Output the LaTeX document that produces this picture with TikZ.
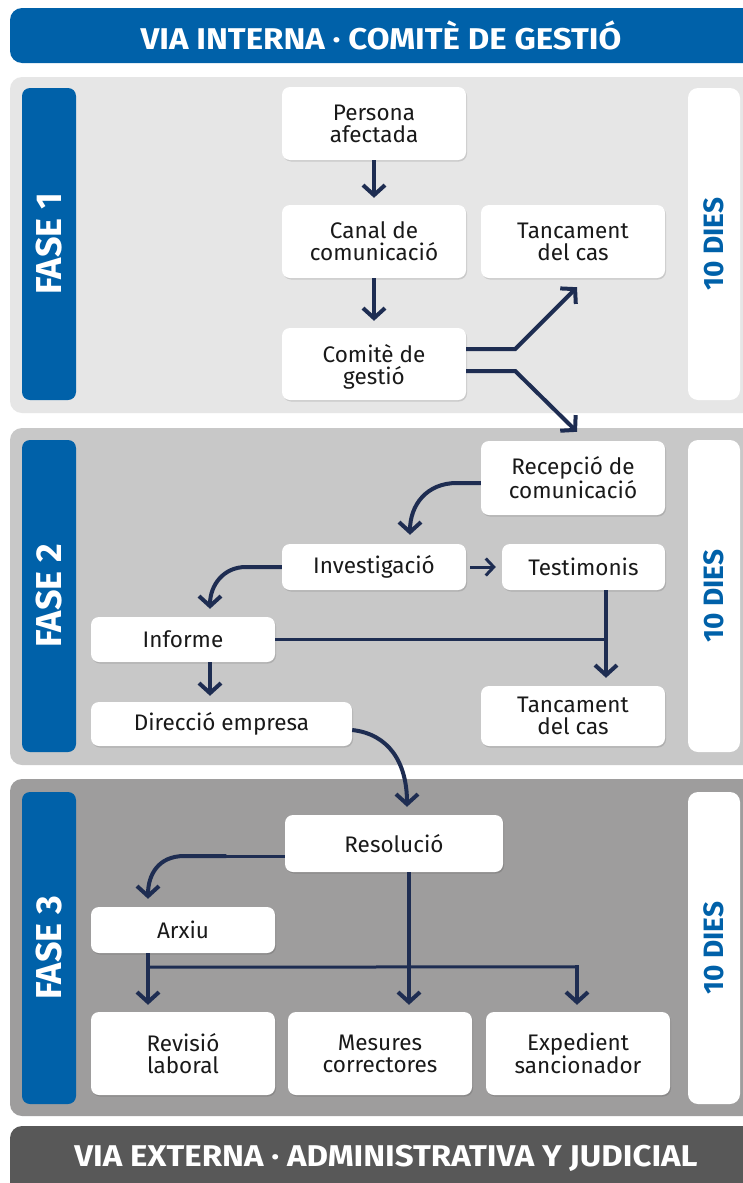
\documentclass[tikz,border=0pt]{standalone}
\usepackage{fontspec}
\setmainfont{Fira Sans}
\newfontfamily\barfont[FakeStretch=1.1]{Fira Sans}
\usetikzlibrary{arrows.meta,calc,shadows}
\definecolor{hblue}{HTML}{0061A9}
\definecolor{navy}{HTML}{1E2D52}
\definecolor{pone}{HTML}{E6E6E6}
\definecolor{ptwo}{HTML}{C8C8C8}
\definecolor{pthree}{HTML}{9E9D9D}
\definecolor{foot}{HTML}{585858}
\tikzset{
  box/.style={fill=white, rounded corners=8pt, inner sep=0pt, align=center,
    font=\fontsize{22.5pt}{22pt}\selectfont, text=black!90,
    drop shadow={shadow xshift=1pt, shadow yshift=-1.5pt, opacity=.12, fill=black}},
  panel/.style={rounded corners=12pt},
  side/.style={fill=hblue, rounded corners=8pt, minimum width=54pt, minimum height=312pt, inner sep=0pt},
  days/.style={fill=white, rounded corners=10pt, minimum width=52pt, minimum height=312pt, inner sep=0pt},
  fasetxt/.style={rotate=90, text=white, font=\fontsize{36pt}{36pt}\selectfont\bfseries},
  daystxt/.style={rotate=90, text=hblue, font=\fontsize{28pt}{28pt}\selectfont\bfseries},
  bartxt/.style={text=white, font=\barfont\fontsize{30pt}{30pt}\selectfont\bfseries},
  flow/.style={draw=navy, line width=4pt, -{Straight Barb[length=10pt,width=22pt]}},
  thinflow/.style={draw=navy, line width=3pt, -{Straight Barb[length=8pt,width=17pt]}},
  link/.style={draw=navy, line width=3pt},
}
\begin{document}
\begin{tikzpicture}[x=1pt,y=-1pt]
\useasboundingbox (0,0) rectangle (742,1183);
\fill[white] (0,0) rectangle (742,1183);
% header / footer bars
\fill[hblue, panel] (10,8) rectangle (780,63);
\node[bartxt] (head) at (381,35.5) {VIA INTERNA · COMITÈ DE GESTIÓ};
\fill[foot, panel] (10,1126) rectangle (780,1220);
\node[bartxt] (foot) at (386,1158) {VIA EXTERNA · ADMINISTRATIVA Y JUDICIAL};
% phase panels
\fill[pone, panel] (10,77) rectangle (780,413);
\fill[ptwo, panel] (10,428) rectangle (780,765);
\fill[pthree, panel] (10,779) rectangle (780,1116);
% side labels
\node[side] (s1) at (49,244) {};
\node[fasetxt] (f1) at (49,244) {FASE 1};
\node[side] (s2) at (49,596) {};
\node[fasetxt] (f2) at (49,596) {FASE 2};
\node[side] (s3) at (49,948) {};
\node[fasetxt] (f3) at (49,948) {FASE 3};
\node[days] (d1) at (714,244) {};
\node[daystxt] (t1) at (714,244) {10 DIES};
\node[days] (d2) at (714,596) {};
\node[daystxt] (t2) at (714,596) {10 DIES};
\node[days] (d3) at (714,948) {};
\node[daystxt] (t3) at (714,948) {10 DIES};
% phase 1 boxes
\node[box, minimum width=184pt, minimum height=73pt] (persona) at (374,123.5) {Persona\\afectada};
\node[box, minimum width=184pt, minimum height=73pt] (canal) at (374,241.5) {Canal de\\comunicació};
\node[box, minimum width=184pt, minimum height=73pt] (tanc1) at (573,241.5) {Tancament\\del cas};
\node[box, minimum width=184pt, minimum height=72pt] (comite) at (374,364) {\raisebox{-4pt}[\height][\depth]{\begin{tabular}{@{}c@{}}Comitè de\\[-3pt]gestió\end{tabular}}};
% phase 2 boxes
\node[box, minimum width=184pt, minimum height=74pt] (recep) at (573,478) {Recepció de\\comunicació};
\node[box, minimum width=184pt, minimum height=46pt] (invest) at (374,567) {Investigació};
\node[box, minimum width=163pt, minimum height=46pt] (testim) at (583.5,567) {Testimonis};
\node[box, minimum width=184pt, minimum height=45pt] (informe) at (183,639.5) {Informe};
\node[box, minimum width=261pt, minimum height=44pt] (direccio) at (221.5,724) {Direcció empresa};
\node[box, minimum width=184pt, minimum height=60pt] (tanc2) at (573,716) {Tancament\\del cas};
% phase 3 boxes
\node[box, minimum width=218pt, minimum height=57pt] (resol) at (394,843.5) {Resolució};
\node[box, minimum width=184pt, minimum height=46pt] (arxiu) at (183,930) {Arxiu};
\node[box, minimum width=184pt, minimum height=83pt] (revisio) at (183,1053.5) {Revisió\\laboral};
\node[box, minimum width=184pt, minimum height=83pt] (mesures) at (380,1053.5) {Mesures\\correctores};
\node[box, minimum width=184pt, minimum height=83pt] (exped) at (578,1053.5) {Expedient\\sancionador};
% phase 1 connectors
\draw[flow, shorten >=7pt] (persona) -- (canal);
\draw[flow, shorten >=7pt] (canal) -- (comite);
\draw[flow] ($(comite.east)+(0,-15)$) -- ++(49,0) -- ($(tanc1.south)+(4,9)$);
\draw[flow] ($(comite.east)+(0,7)$) -- ++(49,0) -- ($(recep.north)+(4,-9)$);
% phase 2 connectors
\draw[flow] ($(recep.west)+(0,5)$) -- ++(-24,0) .. controls +(-30,0) and +(0,-30) .. ($(invest.north)+(36,-9)$);
\draw[thinflow] ($(invest.east)+(4,0)$) -- ($(testim.west)+(-6,0)$);
\draw[flow] (invest.west) -- ++(-36,0) .. controls +(-22,0) and +(0,-24) .. ($(informe.north)+(27,-8)$);
\draw[flow] ($(testim.south)+(22.5,0)$) -- ($(tanc2.north)+(33,-8)$);
\draw[link] (informe.east) -- ($(informe.east)+(331,0)$);
\draw[flow] ($(informe.south)+(27,0)$) -- ($(direccio.north)+(-11.5,-6)$);
\draw[flow] ($(direccio.east)+(0,6)$) .. controls +(36,4) and +(0,-45) .. ($(resol.north)+(13,-8)$);
% phase 3 connectors
\draw[link] ($(resol.west)+(0,12.5)$) -- ++(-60,0) coordinate (rbend);
\draw[flow] ($(rbend)+(1.5,0)$) -- ++(-42,0) .. controls +(-26,0) and +(0,-24) .. ($(arxiu.north)+(-35,-8)$);
\draw[flow] ($(resol.south)+(15,0)$) -- ($(mesures.north)+(29,-7)$);
\draw[flow] ($(arxiu.south)+(-35,0)$) -- ($(revisio.north)+(-35,-7)$);
\draw[link, line join=miter] ($(arxiu.south)+(-35,14)$) -- ($(exped.north)+(-1,-45)$);
\draw[flow] ($(exped.north)+(-1,-46.5)$) -- ($(exped.north)+(-1,-7)$);
\end{tikzpicture}
\end{document}
